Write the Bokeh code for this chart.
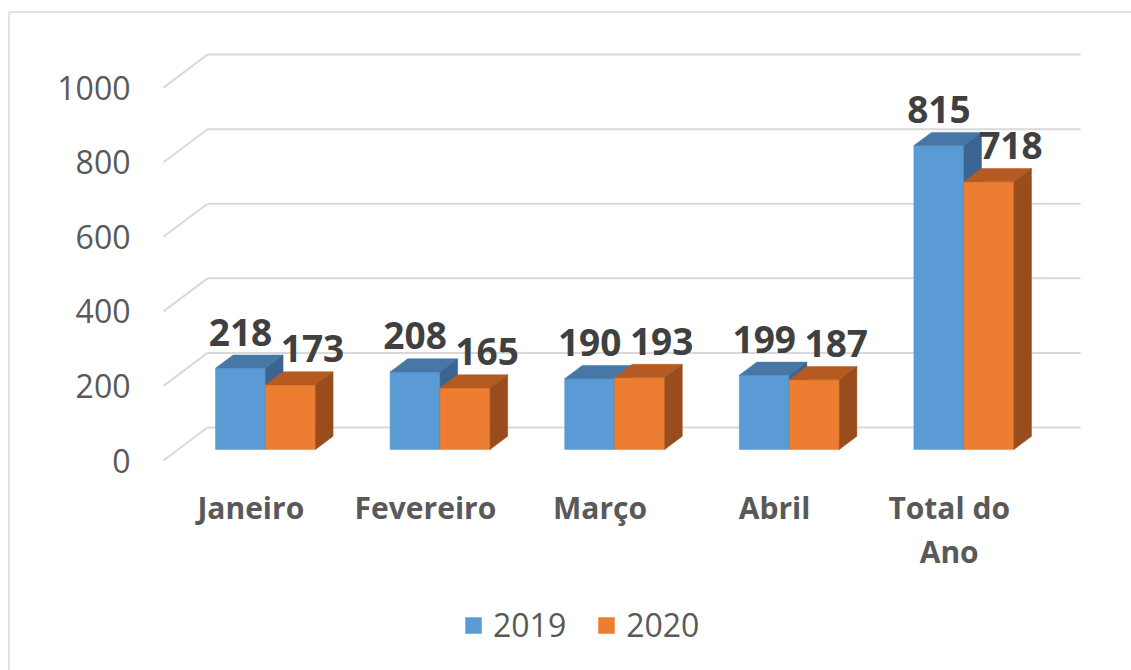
from bokeh.plotting import figure
from bokeh.models import Range1d, Legend, LegendItem
from bokeh.core.properties import value
from bokeh.embed import file_html
from bokeh.resources import INLINE

# ---- data ----
categories = ["Janeiro", "Fevereiro", "Março", "Abril", "Total do\nAno"]
values_2019 = [218, 208, 190, 199, 815]
values_2020 = [173, 165, 193, 187, 718]
series_names = ["2019", "2020"]
y_ticks = [0, 200, 400, 600, 800, 1000]

# ---- geometry (page pixels) ----
FIG_LEFT, FIG_TOP, W, H = 0, 0, 1131, 670
ORIGIN_X, ORIGIN_Y = 163.0, 460.0
PX_CAT = 174.6
PX_VAL = 0.3729
WDX = 44 / PX_CAT
WDY = 33 / PX_VAL
BDX = 17.6 / PX_CAT
BDY = 13.2 / PX_VAL
BW = 50 / PX_CAT
FRONT = 1 / 3.0

x0 = (FIG_LEFT - ORIGIN_X) / PX_CAT
x1 = (FIG_LEFT + W - ORIGIN_X) / PX_CAT
y0 = (ORIGIN_Y - (FIG_TOP + H)) / PX_VAL
y1 = (ORIGIN_Y - FIG_TOP) / PX_VAL

p = figure(width=W, height=H, output_backend="svg", toolbar_location=None,
           x_range=Range1d(x0, x1), y_range=Range1d(y0, y1),
           x_axis_location=None, y_axis_location=None, min_border=0)
p.outline_line_color = None
p.grid.visible = False
p.background_fill_color = "white"
p.border_fill_color = "white"

GRID = "#d9d9d9"
TXT = "#595959"
LBL = "#404040"

# chart-area border (top and left edges visible)
bx = (8.5 - ORIGIN_X) / PX_CAT
by = (ORIGIN_Y - 11.5) / PX_VAL
p.segment(x0=[bx, bx], y0=[by, by], x1=[x1, bx], y1=[by, y0],
          line_color=GRID, line_width=1.5)

# 3D gridlines: diagonal on side wall + horizontal on back wall
n = len(categories)
p.segment(x0=[0] * len(y_ticks), y0=y_ticks,
          x1=[WDX] * len(y_ticks), y1=[t + WDY for t in y_ticks],
          line_color=GRID, line_width=2)
p.segment(x0=[WDX] * len(y_ticks), y0=[t + WDY for t in y_ticks],
          x1=[n + WDX] * len(y_ticks), y1=[t + WDY for t in y_ticks],
          line_color=GRID, line_width=2)

# y tick labels
p.text(x=[0] * len(y_ticks), y=y_ticks, text=[str(t) for t in y_ticks],
       x_offset=-33, text_align="right", text_baseline="middle",
       text_font=value("Open Sans"), text_font_size="32px", text_color=TXT)

# category labels
p.text(x=[i + 0.5 for i in range(n)], y=[0] * n, text=categories,
       y_offset=26, text_align="center", text_baseline="top",
       text_font=value("Open Sans"), text_font_size="30px", text_font_style="bold",
       text_color=TXT, text_line_height=1.09)

colors = {
    "2019": ("#5b9bd5", "#4677a6", "#3b6590"),
    "2020": ("#ed7d31", "#b55b21", "#994d1c"),
}

base = FRONT * WDY
front_renderers = {}
for i in range(n):
    cx = i + 0.5 + FRONT * WDX
    for s, vals, left in (("2019", values_2019, cx - BW), ("2020", values_2020, cx)):
        v = vals[i]
        right = left + BW
        top = base + v
        fc, tc, sc = colors[s]
        r = p.quad(left=[left], right=[right], bottom=[base], top=[top],
                   fill_color=fc, line_color=fc, line_width=0.5)
        front_renderers.setdefault(s, r)
        p.patch(x=[left, right, right + BDX, left + BDX],
                y=[top, top, top + BDY, top + BDY],
                fill_color=tc, line_color=tc, line_width=0.5)
        p.patch(x=[right, right + BDX, right + BDX, right],
                y=[base, base + BDY, top + BDY, top],
                fill_color=sc, line_color=sc, line_width=0.5)

# data labels
cx_list = [i + 0.5 + FRONT * WDX for i in range(n)]
p.text(x=[c - BW / 2 for c in cx_list], y=[base + v for v in values_2019],
       text=[str(v) for v in values_2019], y_offset=-36, x_offset=0,
       text_align="center", text_baseline="alphabetic",
       text_font=value("Open Sans"), text_font_size="37px", text_font_style="bold",
       text_color=LBL)
p.text(x=[c + BW / 2 for c in cx_list], y=[base + v for v in values_2020],
       text=[str(v) for v in values_2020], y_offset=-36, x_offset=22,
       text_align="center", text_baseline="alphabetic",
       text_font=value("Open Sans"), text_font_size="37px", text_font_style="bold",
       text_color=LBL)

legend = Legend(items=[LegendItem(label=s, renderers=[front_renderers[s]]) for s in series_names],
                orientation="horizontal", location=(463, 24),
                glyph_width=20, glyph_height=20, label_standoff=10, spacing=30,
                padding=0, margin=0, border_line_color=None, background_fill_alpha=0,
                label_text_font="Open Sans", label_text_font_size="32px",
                label_text_color=TXT)
p.add_layout(legend)

open("out.html", "w").write(file_html(p, INLINE))
